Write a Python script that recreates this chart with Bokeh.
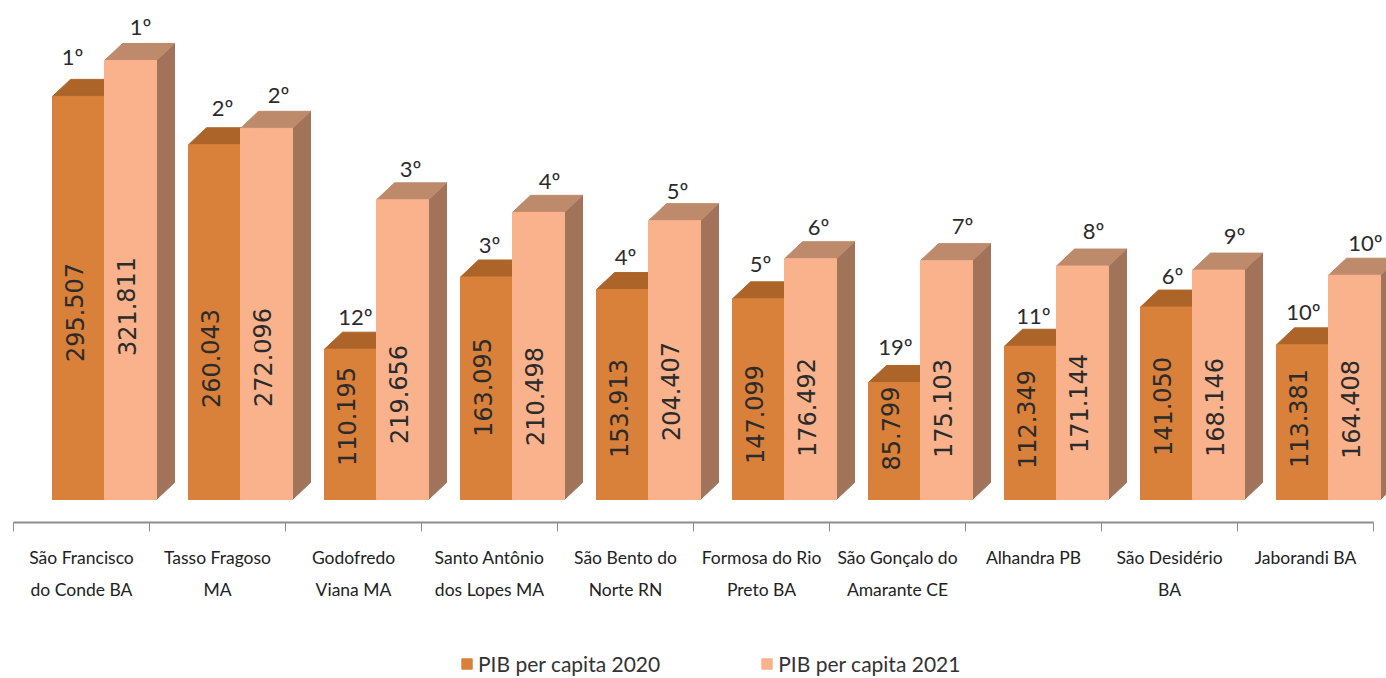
from bokeh.embed import file_html
from bokeh.resources import INLINE
from bokeh.plotting import figure
from bokeh.models import Range1d, LinearAxis, FixedTicker, Legend, LegendItem, ColumnDataSource
from bokeh.core.properties import value

municipios = ["São Francisco\ndo Conde BA", "Tasso Fragoso\nMA", "Godofredo\nViana MA",
              "Santo Antônio\ndos Lopes MA", "São Bento do\nNorte RN", "Formosa do Rio\nPreto BA",
              "São Gonçalo do\nAmarante CE", "Alhandra PB", "São Desidério\nBA", "Jaborandi BA"]
pib_2020 = [295507, 260043, 110195, 163095, 153913, 147099, 85799, 112349, 141050, 113381]
pib_2021 = [321811, 272096, 219656, 210498, 204407, 176492, 175103, 171144, 168146, 164408]
rank_2020 = ["1º", "2º", "12º", "3º", "4º", "5º", "19º", "11º", "6º", "10º"]
rank_2021 = ["1º", "2º", "3º", "4º", "5º", "6º", "7º", "8º", "9º", "10º"]
serie_2020 = "PIB per capita 2020"
serie_2021 = "PIB per capita 2021"

# layout (page pixels): hand-placed label positions as in the source chart
label_y_2020 = [312, 358, 416, 387, 408, 414, 428, 419, 406, 418]
label_y_2021 = [306, 357, 394, 396, 391, 407, 408, 403, 407, 409]
rank_x_2020 = [72, 222, 355, 489, 625, 760, 895, 1033, 1172, 1303]
rank_y_2020 = [56, 107, 316, 244, 256, 263, 346, 315, 275, 311]
rank_x_2021 = [140, 278, 410, 549, 677, 818, 962, 1093, 1234, 1365]
rank_y_2021 = [26, 94, 168, 180, 190, 226, 225, 230, 235, 242]

W, H = 1386, 678
GROUP_PX = 136.0
X0_PX = 13.0
BASE_PX = 499.0
AXIS_PX = 522.0
PX_PER_UNIT = 439.0 / 321811
BAR = 52.0 / GROUP_PX
GAP = 39.0 / GROUP_PX
DX = 18.0 / GROUP_PX
DY = 17.0 / PX_PER_UNIT
SANS = "Lato"

x_range = Range1d(-X0_PX / GROUP_PX, (W - X0_PX) / GROUP_PX)
y_range = Range1d((BASE_PX - H) / PX_PER_UNIT, BASE_PX / PX_PER_UNIT)

p = figure(width=W, height=H, x_range=x_range, y_range=y_range, output_backend="svg",
           toolbar_location=None, min_border=0, x_axis_location=None, y_axis_location=None)
p.grid.visible = False
p.outline_line_color = None


def to_x(px):
    return (px - X0_PX) / GROUP_PX


def to_y(px):
    return (BASE_PX - px) / PX_PER_UNIT


def bars(vals, offset, front, top, side):
    x0 = [i + GAP + offset for i in range(len(vals))]
    x1 = [a + BAR for a in x0]
    top_x = [[a, a + DX, b + DX, b] for a, b in zip(x0, x1)]
    top_y = [[v, v + DY, v + DY, v] for v in vals]
    side_x = [[b, b + DX, b + DX, b] for b in x1]
    side_y = [[0, DY, v + DY, v] for v in vals]
    p.patches(side_x, side_y, fill_color=side, line_color=side)
    p.patches(top_x, top_y, fill_color=top, line_color=top)
    return p.quad(left=x0, right=x1, bottom=0, top=vals, fill_color=front, line_color=front)


r20 = bars(pib_2020, 0.0, "#D9803A", "#AC6428", "#A1735A")
r21 = bars(pib_2021, BAR, "#F9B28B", "#BD8A6B", "#A1735A")


def labels(vals, offset, label_y, ranks, rank_x, rank_y):
    xc = [i + GAP + offset + BAR / 2 for i in range(len(vals))]
    src = ColumnDataSource(dict(x=xc, y=[to_y(v) for v in label_y],
                                t=[f"{v:,}".replace(",", ".") for v in vals]))
    p.text("x", "y", text="t", source=src, angle=1.5708, x_offset=-4, text_align="center",
           text_baseline="middle", text_color="#2B2B2B", text_font=value("DejaVu Sans"),
           text_font_size="24px")
    src2 = ColumnDataSource(dict(x=[to_x(v) for v in rank_x], y=[to_y(v) for v in rank_y], t=ranks))
    p.text("x", "y", text="t", source=src2, text_align="center", text_baseline="middle",
           text_color="#2B2B2B", text_font=value(SANS), text_font_size="22px")


labels(pib_2020, 0.0, label_y_2020, rank_2020, rank_x_2020, rank_y_2020)
labels(pib_2021, BAR, label_y_2021, rank_2021, rank_x_2021, rank_y_2021)

n = len(municipios)
centers = [i + 0.5 for i in range(n)]
axis = LinearAxis(fixed_location=-(AXIS_PX - BASE_PX) / PX_PER_UNIT,
                  ticker=FixedTicker(ticks=centers, minor_ticks=list(range(n + 1))),
                  major_label_overrides={c: m for c, m in zip(centers, municipios)},
                  axis_line_color="#8E8E8E", axis_line_width=2,
                  major_tick_line_color=None, major_tick_out=0, major_tick_in=0,
                  minor_tick_line_color="#8E8E8E", minor_tick_line_width=1,
                  minor_tick_out=9, minor_tick_in=0,
                  major_label_standoff=15, major_label_orientation="horizontal",
                  major_label_text_font=SANS, major_label_text_font_size="17.5px",
                  major_label_text_color="#222222", major_label_text_line_height=1.55)
p.add_layout(axis, "below")
axis.bounds = (0, n)

legend = Legend(items=[LegendItem(label=serie_2020, renderers=[r20]),
                       LegendItem(label=serie_2021, renderers=[r21])],
                orientation="horizontal", location=(460, 2), margin=0, padding=0, spacing=100,
                glyph_width=13, glyph_height=13, label_standoff=5,
                label_text_font=SANS, label_text_font_size="21px", label_text_color="#333333",
                background_fill_alpha=0, border_line_color=None)
p.add_layout(legend, "center")

open("out.html", "w").write(file_html(p, INLINE))
